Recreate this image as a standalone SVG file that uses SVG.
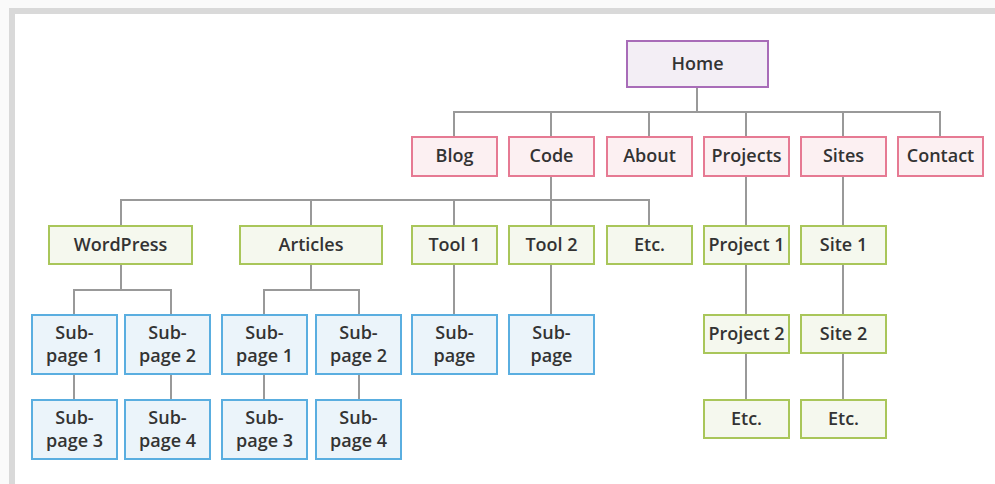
<svg xmlns="http://www.w3.org/2000/svg" width="995" height="484" viewBox="0 0 995 484">
<style>
text{font-family:"Open Sans","Liberation Sans",sans-serif;font-size:18px;font-weight:600;fill:#333;text-anchor:middle;dominant-baseline:central}
.p rect{fill:#fcf0f2;stroke:#e67a93;stroke-width:2}
.h rect{fill:#f3eef5;stroke:#a86cb8;stroke-width:2}
.g rect{fill:#f5f8ee;stroke:#a9c65a;stroke-width:2}
.b rect{fill:#ebf4fa;stroke:#5aaee0;stroke-width:2}
#connectors path{fill:none;stroke:#999;stroke-width:2}
</style>
<rect x="0" y="0" width="995" height="484" fill="#fafafa"/>
<rect x="12" y="11" width="990" height="480" fill="#fff" stroke="#d9d9d9" stroke-width="6"/>
<g id="connectors">
<path d="M697 87V112M454 137V112H940V137M551 112V137M649 112V137M746 112V137M843 112V137"/>
<path d="M551 176V200M121 226V200H649V226M311 200V226M454 200V226M551 200V226"/>
<path d="M746 176V226M746 264V315M746 353V400M843 176V226M843 264V315M843 353V400"/>
<path d="M121 264V290M74 315V290H171V315M74 374V400M171 374V400"/>
<path d="M311 264V290M264 315V290H359V315M264 374V400M359 374V400"/>
<path d="M454 264V315M551 264V315"/>
</g>
<g id="home" class="h"><rect x="627" y="41" width="141" height="46"/><text x="697.5" y="62.5">Home</text></g>
<g id="blog" class="p"><rect x="412" y="137" width="85" height="39"/><text x="454.5" y="154.5">Blog</text></g>
<g id="code" class="p"><rect x="509" y="137" width="85" height="39"/><text x="551.5" y="154.5">Code</text></g>
<g id="about" class="p"><rect x="607" y="137" width="85" height="39"/><text x="649.5" y="154.5">About</text></g>
<g id="projects" class="p"><rect x="704" y="137" width="85" height="39"/><text x="746.5" y="154.5">Projects</text></g>
<g id="sites" class="p"><rect x="801" y="137" width="85" height="39"/><text x="843.5" y="154.5">Sites</text></g>
<g id="contact" class="p"><rect x="898" y="137" width="85" height="39"/><text x="940.5" y="154.5">Contact</text></g>
<g id="wordpress" class="g"><rect x="49" y="226" width="143" height="38"/><text x="120.5" y="243.5">WordPress</text></g>
<g id="articles" class="g"><rect x="240" y="226" width="142" height="38"/><text x="311" y="243.5">Articles</text></g>
<g id="tool1" class="g"><rect x="412" y="226" width="85" height="38"/><text x="454.5" y="243.5">Tool 1</text></g>
<g id="tool2" class="g"><rect x="509" y="226" width="85" height="38"/><text x="551.5" y="243.5">Tool 2</text></g>
<g id="code-etc" class="g"><rect x="607" y="226" width="85" height="38"/><text x="649.5" y="243.5">Etc.</text></g>
<g id="project1" class="g"><rect x="704" y="226" width="85" height="38"/><text x="746.5" y="243.5">Project 1</text></g>
<g id="site1" class="g"><rect x="801" y="226" width="85" height="38"/><text x="843.5" y="243.5">Site 1</text></g>
<g id="project2" class="g"><rect x="704" y="315" width="85" height="38"/><text x="746.5" y="332.5">Project 2</text></g>
<g id="site2" class="g"><rect x="801" y="315" width="85" height="38"/><text x="843.5" y="332.5">Site 2</text></g>
<g id="projects-etc" class="g"><rect x="704" y="400" width="85" height="38"/><text x="746.5" y="417.5">Etc.</text></g>
<g id="sites-etc" class="g"><rect x="801" y="400" width="85" height="38"/><text x="843.5" y="417.5">Etc.</text></g>
<g id="wp-sub1" class="b"><rect x="32" y="315" width="85" height="59"/><text x="74.5" y="331.5">Sub-</text><text x="74.5" y="354.5">page 1</text></g>
<g id="wp-sub2" class="b"><rect x="125" y="315" width="85" height="59"/><text x="167.5" y="331.5">Sub-</text><text x="167.5" y="354.5">page 2</text></g>
<g id="wp-sub3" class="b"><rect x="32" y="400" width="85" height="59"/><text x="74.5" y="416.5">Sub-</text><text x="74.5" y="439.5">page 3</text></g>
<g id="wp-sub4" class="b"><rect x="125" y="400" width="85" height="59"/><text x="167.5" y="416.5">Sub-</text><text x="167.5" y="439.5">page 4</text></g>
<g id="ar-sub1" class="b"><rect x="222" y="315" width="85" height="59"/><text x="264.5" y="331.5">Sub-</text><text x="264.5" y="354.5">page 1</text></g>
<g id="ar-sub2" class="b"><rect x="316" y="315" width="85" height="59"/><text x="358.5" y="331.5">Sub-</text><text x="358.5" y="354.5">page 2</text></g>
<g id="ar-sub3" class="b"><rect x="222" y="400" width="85" height="59"/><text x="264.5" y="416.5">Sub-</text><text x="264.5" y="439.5">page 3</text></g>
<g id="ar-sub4" class="b"><rect x="316" y="400" width="85" height="59"/><text x="358.5" y="416.5">Sub-</text><text x="358.5" y="439.5">page 4</text></g>
<g id="tool1-sub" class="b"><rect x="412" y="315" width="85" height="59"/><text x="454.5" y="331.5">Sub-</text><text x="454.5" y="354.5">page</text></g>
<g id="tool2-sub" class="b"><rect x="509" y="315" width="85" height="59"/><text x="551.5" y="331.5">Sub-</text><text x="551.5" y="354.5">page</text></g>
</svg>
